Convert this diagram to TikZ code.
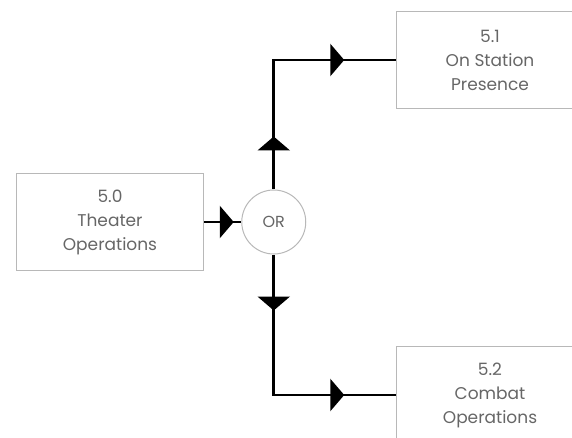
\documentclass[tikz,border=0pt]{standalone}
\usepackage{fontspec}
\setmainfont{Poppins}
\usepackage{xcolor}
\usetikzlibrary{arrows.meta,positioning,decorations.markings}
\definecolor{boxgray}{gray}{0.72}
\definecolor{txtgray}{gray}{0.4}
\tikzset{
  ftip/.tip={Triangle[length=14pt,width=32pt]},
  fbox5/.style={draw=boxgray, line width=1.5pt, align=center, text=txtgray, font=\fontsize{17}{24}\selectfont, minimum width=187pt, minimum height=97pt, inner sep=0pt},
  orc/.style={circle, draw=boxgray, line width=1pt, text=txtgray, font=\fontsize{16}{24}\selectfont, minimum size=64pt, inner sep=0pt},
  farr/.style={line width=2.8pt, postaction={decorate, decoration={markings, mark=at position #1 with {\arrow{ftip}}}}},
  farr2/.style 2 args={line width=2.8pt, postaction={decorate, decoration={markings, mark=at position #1 with {\arrow{ftip}}, mark=at position #2 with {\arrow{ftip}}}}}
}

\begin{document}
\begin{tikzpicture}[x=1pt,y=-1pt]
\useasboundingbox (0,0) rectangle (572,438);
\node[fbox5] (b50) at (110,222) {5.0\\Theater\\Operations};
\node[orc, right=37pt of b50] (or) {OR};
\node[fbox5] (b51) at (490,60) {5.1\\On Station\\Presence};
\node[fbox5] (b52) at (490,395) {5.2\\Combat\\Operations};
\draw[farr=29.5pt] (b50.east)--(or.west);
\draw[farr2={53pt}{200pt}] (or.north) |- (b51.west);
\draw[farr2={56pt}{211pt}] (or.south) |- (b52.west);
\end{tikzpicture}
\end{document}
